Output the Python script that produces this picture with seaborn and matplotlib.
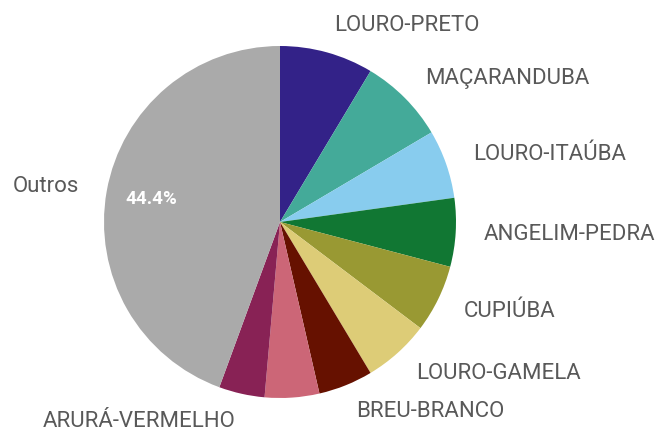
import matplotlib
matplotlib.use("Agg")
import matplotlib.pyplot as plt
import seaborn as sns

# species share of volume (percent), clockwise from 12 o'clock
species = ["LOURO-PRETO", "MAÇARANDUBA", "LOURO-ITAÚBA", "ANGELIM-PEDRA", "CUPIÚBA",
           "LOURO-GAMELA", "BREU-BRANCO", "", "ARURÁ-VERMELHO", "Outros"]
shares = [8.6, 7.9, 6.3, 6.3, 6.2, 6.1, 5.0, 5.0, 4.2, 44.4]
slice_colors = ["#332288", "#44AA99", "#88CCEE", "#117733", "#999933",
                "#DDCC77", "#661100", "#CC6677", "#882255", "#AAAAAA"]

sns.set_theme(style="white")
plt.rcParams['font.family'] = ['Roboto', 'DejaVu Sans']

fig = plt.figure(figsize=(6.61, 4.28), dpi=100)
# square axes so the pie sits where it does in the original
ax = fig.add_axes([104 / 661, 30 / 428, 352 / 661, 352 / 428])

palette = sns.color_palette(slice_colors)


def show_big(pct):
    # only the dominant slice gets its percentage
    return f"{pct:.1f}%" if pct > 40 else ""


wedges, texts, autotexts = ax.pie(
    shares, labels=species, colors=palette, startangle=90, counterclock=False,
    radius=1, labeldistance=1.16, pctdistance=0.74, autopct=show_big,
    wedgeprops=dict(linewidth=0),
    textprops=dict(fontsize=16, color="#595959"),
)
for t in autotexts:
    t.set_color("white")
    t.set_fontsize(13.5)
    t.set_fontweight("bold")

ax.set_xlim(-1, 1)
ax.set_ylim(-1, 1)
ax.set_aspect("equal")
ax.axis("off")

fig.savefig("out.png", dpi=100)
